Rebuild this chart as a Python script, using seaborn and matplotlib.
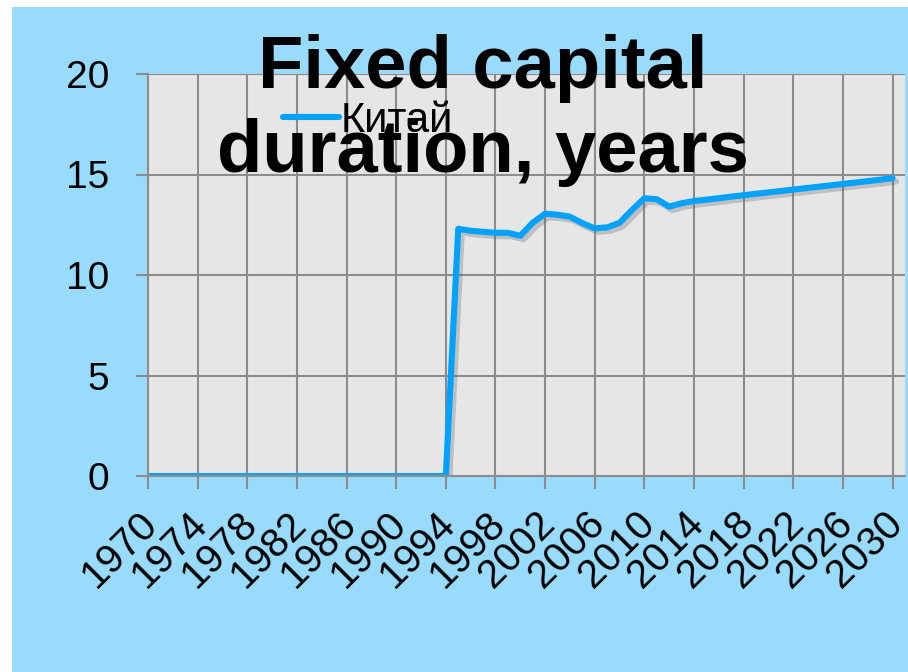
import matplotlib
matplotlib.use("Agg")
import matplotlib.pyplot as plt
import matplotlib.patheffects as pe
import matplotlib.transforms as mtransforms
from matplotlib.patches import Rectangle
import seaborn as sns
import pandas as pd

# Fixed capital duration in China, years (1970-2030)
years = list(range(1970, 2031))
duration = [
    0.0, 0.0, 0.0, 0.0, 0.0, 0.0, 0.0, 0.0, 0.0, 0.0,      # 1970-1979
    0.0, 0.0, 0.0, 0.0, 0.0, 0.0, 0.0, 0.0, 0.0, 0.0,      # 1980-1989
    0.0, 0.0, 0.0, 0.0, 0.0,                               # 1990-1994
    12.3, 12.2, 12.15, 12.1, 12.1,                         # 1995-1999
    11.95, 12.6, 13.05, 13.0, 12.9,                        # 2000-2004
    12.58, 12.32, 12.37, 12.6, 13.23,                      # 2005-2009
    13.82, 13.77, 13.4, 13.57, 13.68,                      # 2010-2014
    13.75, 13.82, 13.9, 13.97, 14.04,                      # 2015-2019
    14.11, 14.18, 14.25, 14.32, 14.39,                     # 2020-2024
    14.46, 14.53, 14.6, 14.67, 14.74, 14.82,               # 2025-2030
]
series_name = "Китай"
title_lines = ["Fixed capital", "duration, years"]
x_ticks = list(range(1970, 2031, 4))
y_ticks = [0, 5, 10, 15, 20]

df = pd.DataFrame({"year": years, "value": duration, "country": series_name})

sns.set_theme(style="whitegrid")
plt.rcParams["font.family"] = ["Liberation Sans", "DejaVu Sans"]
plt.rcParams["text.color"] = "black"
plt.rcParams["xtick.color"] = "black"
plt.rcParams["ytick.color"] = "black"

BG = "#99dbfd"
PLOT_BG = "#e6e6e6"
GRID = "#8c8c8c"
LINE = "#00a2ff"

fig = plt.figure(figsize=(9.08, 6.72), dpi=100)
fig.patch.set_facecolor("white")
fig.add_artist(Rectangle((12 / 908, 0), 1 - 12 / 908, 1 - 7 / 672,
                         transform=fig.transFigure, facecolor=BG,
                         edgecolor="none", zorder=-10))

ax = fig.add_axes([148 / 908, 1 - 476 / 672, (905 - 148) / 908, (476 - 74) / 672])
ax.set_facecolor(PLOT_BG)

sns.lineplot(data=df, x="year", y="value", hue="country", palette=[LINE],
             linewidth=4.4, ax=ax, legend=True)
for ln in ax.get_lines():
    ln.set_solid_joinstyle("round")
    ln.set_solid_capstyle("round")
    ln.set_path_effects([pe.SimpleLineShadow(offset=(2.5, -2.5), shadow_color="#666666", alpha=0.3),
                         pe.Normal()])

ax.set_xlim(1970, 2031)
ax.set_ylim(0, 20)
ax.set_xticks(x_ticks)
ax.set_yticks(y_ticks)
ax.set_xticklabels([str(t) for t in x_ticks], rotation=45, ha="right", va="center",
                   rotation_mode="anchor", fontsize=29, color="black")
ax.set_yticklabels([str(t) for t in y_ticks], fontsize=28, color="black")
ax.set_xlabel("")
ax.set_ylabel("")

ax.grid(True, color=GRID, linewidth=1.5)
ax.set_axisbelow(True)
ax.tick_params(axis="x", length=9, width=1.5, color=GRID, labelcolor="black",
               pad=21, direction="out", bottom=True)
ax.tick_params(axis="y", length=9, width=1.5, color=GRID, labelcolor="black",
               pad=19, direction="out", left=True)
for side in ["top", "right"]:
    ax.spines[side].set_visible(False)
for side in ["left", "bottom"]:
    ax.spines[side].set_color(GRID)
    ax.spines[side].set_linewidth(1.5)

# nudge the rotated year labels slightly to the right
shift = mtransforms.ScaledTranslation(4 / 100, 0, fig.dpi_scale_trans)
for lbl in ax.get_xticklabels():
    lbl.set_transform(lbl.get_transform() + shift)

leg = ax.legend(loc="center", bbox_to_anchor=(368 / 908, 1 - 121 / 672),
                bbox_transform=fig.transFigure, frameon=False, fontsize=30,
                handlelength=1.35, handletextpad=0.05, borderpad=0)
for h in leg.get_lines():
    h.set_linewidth(4.4)
    h.set_path_effects([])
for t in leg.get_texts():
    t.set_color("black")

fig.text(483 / 908, 1 - 88 / 672, title_lines[0], ha="center", va="baseline",
         fontsize=53.5, fontweight="bold", color="black", zorder=10)
fig.text(483 / 908, 1 - 172 / 672, title_lines[1], ha="center", va="baseline",
         fontsize=53.5, fontweight="bold", color="black", zorder=10)

fig.savefig("out.png", dpi=100, facecolor=fig.get_facecolor())
